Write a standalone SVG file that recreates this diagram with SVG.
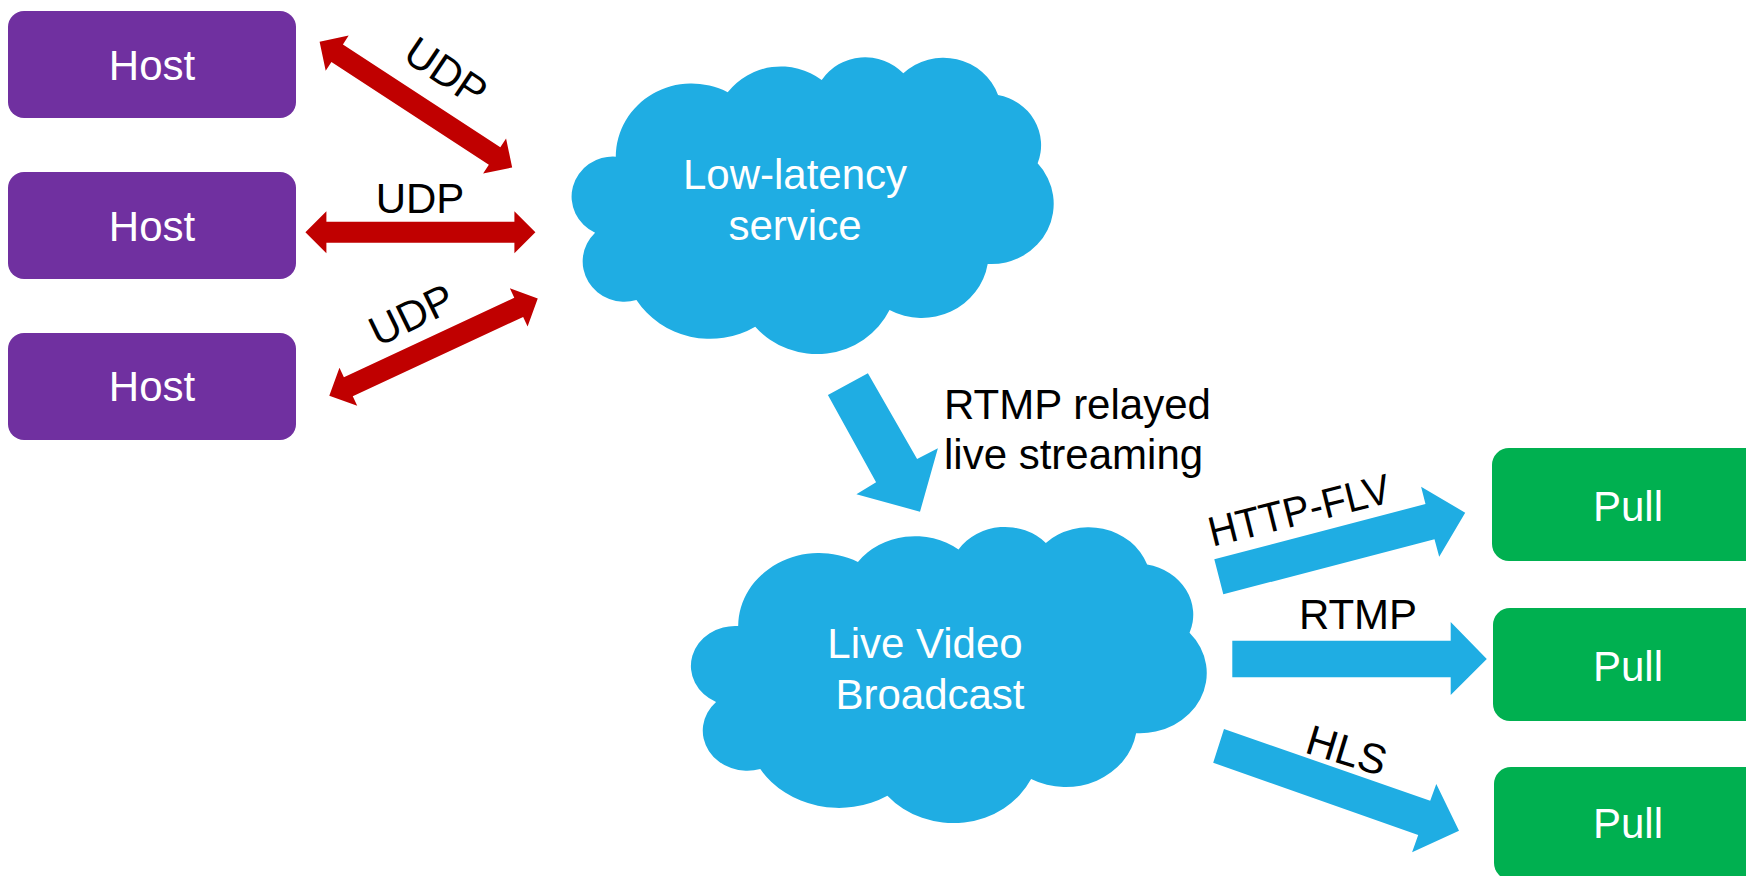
<svg xmlns="http://www.w3.org/2000/svg" width="1746" height="876" viewBox="0 0 1746 876">
  <style>
    .host { fill: #7030A0; }
    .pull { fill: #00B050; }
    .cloud { fill: #1FADE3; }
    .blue { fill: #1FADE3; }
    .red { fill: #C00000; }
    .ntext { font-family: "Liberation Sans", Arial, sans-serif; font-size: 42px; fill: #FFFFFF; text-anchor: middle; }
    .ltext { font-family: "Liberation Sans", Arial, sans-serif; font-size: 42px; fill: #000000; }
    .mid { text-anchor: middle; }
  </style>
  <defs>
    <path id="cloudShape" d="M220,350 A220,220 0 0 1 545,157 A193,193 0 0 1 818,120 A151,151 0 0 1 1055,100 A168,168 0 0 1 1330,165 A153,153 0 0 1 1445,370 A181,181 0 0 1 1300,672 A194,194 0 0 1 1015,810 A235,235 0 0 1 625,860 A254,254 0 0 1 280,780 A121,121 0 0 1 160,578 A120,120 0 0 1 220,350 Z"/>
    <path id="udpArrow" d="M0,0 L21,-21 L21,-10.5 L209,-10.5 L209,-21 L230,0 L209,21 L209,10.5 L21,10.5 L21,21 Z"/>
  </defs>

  <g id="host1">
    <rect class="host" x="8" y="11" width="288" height="107" rx="16" ry="16"/>
    <text class="ntext" x="152" y="80">Host</text>
  </g>
  <g id="host2">
    <rect class="host" x="8" y="172" width="288" height="107" rx="16" ry="16"/>
    <text class="ntext" x="152" y="241">Host</text>
  </g>
  <g id="host3">
    <rect class="host" x="8" y="333" width="288" height="107" rx="16" ry="16"/>
    <text class="ntext" x="152" y="401">Host</text>
  </g>

  <g id="cloud-low-latency">
    <use href="#cloudShape" class="cloud" transform="translate(540,40) scale(0.34438,0.33333)"/>
    <text class="ntext" x="795" y="189">Low-latency</text>
    <text class="ntext" x="795" y="240">service</text>
  </g>

  <g id="cloud-live-video">
    <use href="#cloudShape" class="cloud" transform="translate(657.1,509.7) scale(0.36848,0.33258)"/>
    <text class="ntext" x="925" y="658">Live Video</text>
    <text class="ntext" x="930" y="709">Broadcast</text>
  </g>

  <g id="pull1">
    <rect class="pull" x="1492" y="448" width="290" height="113" rx="17" ry="17"/>
    <text class="ntext" x="1628" y="521">Pull</text>
  </g>
  <g id="pull2">
    <rect class="pull" x="1493" y="608" width="290" height="113" rx="17" ry="17"/>
    <text class="ntext" x="1628" y="681">Pull</text>
  </g>
  <g id="pull3">
    <rect class="pull" x="1494" y="767" width="290" height="113" rx="17" ry="17"/>
    <text class="ntext" x="1628" y="838">Pull</text>
  </g>

  <g id="connectors">
    <use href="#udpArrow" class="red" transform="translate(319.6,41.7) rotate(33.15)"/>
    <use href="#udpArrow" class="red" transform="translate(305.4,232.3)"/>
    <use href="#udpArrow" class="red" transform="translate(329.3,395.7) rotate(-25)"/>
    <text class="ltext mid" transform="translate(438,83.7) rotate(34)" x="0" y="0">UDP</text>
    <text class="ltext mid" x="420" y="213">UDP</text>
    <text class="ltext mid" transform="translate(417.8,327.8) rotate(-26)" x="0" y="0">UDP</text>

    <polygon class="blue" points="827.9,395 867.9,373.3 917.1,459 937.9,448.3 920,511.7 856.4,494.3 876.1,482.3"/>
    <text class="ltext" x="944" y="419">RTMP relayed</text>
    <text class="ltext" x="944" y="469">live streaming</text>

    <polygon class="blue" points="1214.3,559.3 1425.5,504 1421.1,486.7 1465.2,512.7 1439.2,556.7 1434.5,539.3 1223.3,594.3"/>
    <text class="ltext mid" transform="translate(1302.7,524.3) rotate(-14)" x="0" y="0" textLength="186" lengthAdjust="spacingAndGlyphs">HTTP-FLV</text>

    <polygon class="blue" points="1232.3,640.7 1450.7,640.7 1450.7,622 1486.8,659 1450.7,695 1450.7,677.3 1232.3,677.3"/>
    <text class="ltext mid" x="1358" y="629">RTMP</text>

    <polygon class="blue" points="1224,729 1430.2,800.7 1436.3,784 1459,830.7 1412.1,852.3 1418.2,835 1213.2,762.7"/>
    <text class="ltext mid" transform="translate(1342.5,764.2) rotate(17)" x="0" y="0">HLS</text>
  </g>
</svg>
